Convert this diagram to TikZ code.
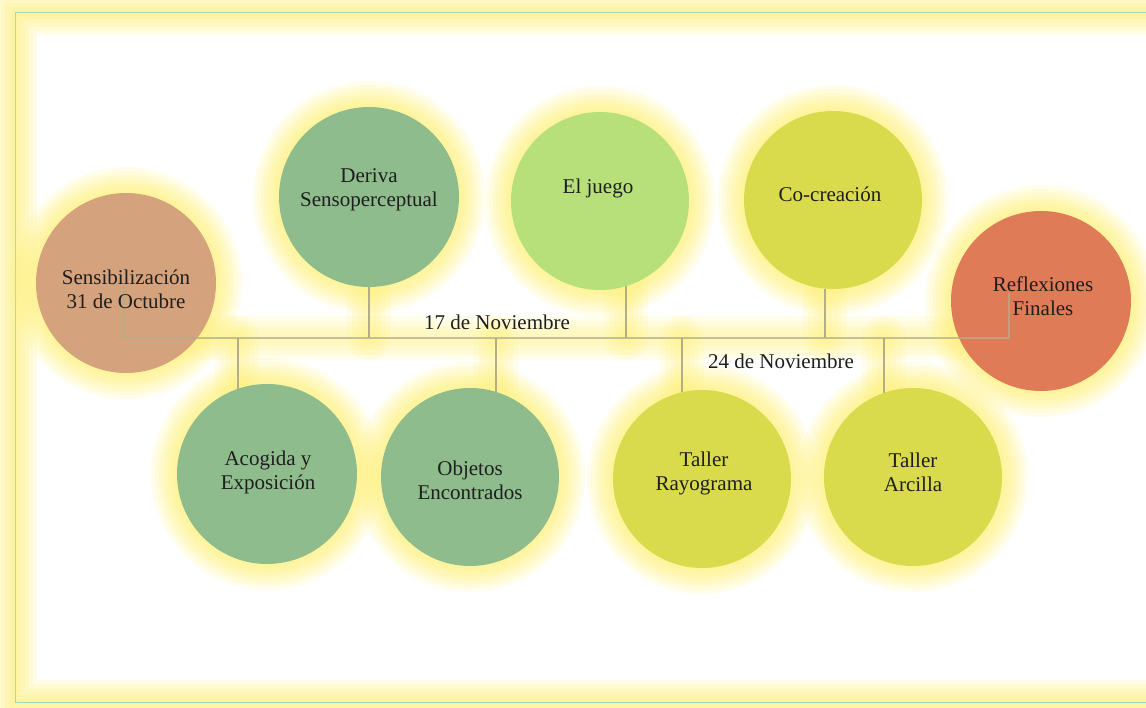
\documentclass[tikz,border=0pt]{standalone}
\usepackage{fontspec}
\setmainfont{Liberation Serif}
\definecolor{glowc}{HTML}{FFF27A}
\definecolor{framec}{HTML}{A8D8B0}
\definecolor{linec}{HTML}{B3AE86}
\definecolor{sensc}{HTML}{D4A27C}
\definecolor{greenc}{HTML}{8FBC8D}
\definecolor{juegoc}{HTML}{B8E07A}
\definecolor{yelc}{HTML}{D9DA4C}
\definecolor{redc}{HTML}{E07B58}
\definecolor{txtc}{HTML}{1E1E1E}
\tikzset{
  circ/.style={circle, minimum size=#1, inner sep=0pt, outer sep=0pt},
  circ/.default=180pt,
  lbl/.style={align=center, text=txtc, font=\fontsize{21}{24}\selectfont},
  conn/.style={draw=linec, line width=1.6pt},
  connglow/.style={draw=glowc, line join=round, line cap=round, opacity=0.14},
}
\newcommand{\myglow}[3]{%
  \foreach \d in {26,22,18,15,12,9,6,3}{\fill[glowc, opacity=0.14] (#1,#2) circle ({#3+\d});}}
\begin{document}
\begin{tikzpicture}[x=1pt,y=-1pt]
\useasboundingbox (0,0) rectangle (1146,708);
\fill[white] (0,0) rectangle (1146,708);
% frame glow
\foreach \w in {44,36,28,20,12,6}{\draw[glowc, opacity=0.18, line width=\w pt] (15,13) rectangle (1175,702);}
\draw[framec, line width=1pt] (15,13) rectangle (1175,702);
% key coordinates
\coordinate (s0) at (124,287);
\coordinate (hl) at (124,338);
\coordinate (hr) at (1009,338);
\coordinate (r0) at (1009,293);
% connector glow
\foreach \w in {44,34,24,14}{
  \draw[connglow, line width=\w pt] (s0) -- (hl) -- (hr) -- (r0);
  \foreach \xx/\ya/\yb in {369/287/338, 626/286/338, 825/288/338, 237/338/387, 496/338/390, 682/338/392, 884/338/390}{
    \draw[connglow, line width=\w pt] (\xx,\ya) -- (\xx,\yb);}
}
% circle glow
\myglow{126}{283}{90}
\myglow{369}{197}{90}
\myglow{600}{201}{89}
\myglow{833}{200}{89}
\myglow{1041}{301}{90}
\myglow{267}{474}{90}
\myglow{470}{477}{89}
\myglow{702}{479}{89}
\myglow{913}{477}{89}
% circles
\node[circ=180pt, fill=sensc] (sens) at (126,283) {};
\node[circ=180pt, fill=greenc] (deriva) at (369,197) {};
\node[circ=178pt, fill=juegoc] (juego) at (600,201) {};
\node[circ=178pt, fill=yelc] (cocre) at (833,200) {};
\node[circ=180pt, fill=redc] (reflex) at (1041,301) {};
\node[circ=180pt, fill=greenc] (acog) at (267,474) {};
\node[circ=178pt, fill=greenc] (objet) at (470,477) {};
\node[circ=178pt, fill=yelc] (rayo) at (702,479) {};
\node[circ=178pt, fill=yelc] (arci) at (913,477) {};
% connectors
\draw[conn, opacity=0.75] (s0) -- (hl) -- (hr) -- (r0);
\draw[conn] (deriva.south) -- (deriva.south |- hl);
\draw[conn] (juego.-73) -- (juego.-73 |- hl);
\draw[conn] (cocre.-95) -- (cocre.-95 |- hl);
\draw[conn] (acog.109.5) -- (acog.109.5 |- hl);
\draw[conn] (objet.73) -- (objet.73 |- hl);
\draw[conn] (rayo.103) -- (rayo.103 |- hl);
\draw[conn] (arci.109) -- (arci.109 |- hl);
% labels
\node[lbl] (t-sens) at (126,289) {Sensibilización\\31 de Octubre};
\node[lbl] (t-deriva) at (369,190) {Deriva\\Sensoperceptual};
\node[lbl] (t-juego) at (598,188) {El juego};
\node[lbl] (t-cocre) at (830,194) {Co-creación};
\node[lbl] (t-reflex) at (1043,296) {Reflexiones\\Finales};
\node[lbl] (t-acog) at (268,472) {Acogida y\\Exposición};
\node[lbl] (t-objet) at (470,480) {Objetos\\Encontrados};
\node[lbl] (t-rayo) at (704,473) {Taller\\Rayograma};
\node[lbl] (t-arci) at (913,472) {Taller\\Arcilla};
\node[lbl] (d17) at (497,322) {17 de Noviembre};
\node[lbl] (d24) at (781,361) {24 de Noviembre};
\end{tikzpicture}
\end{document}
